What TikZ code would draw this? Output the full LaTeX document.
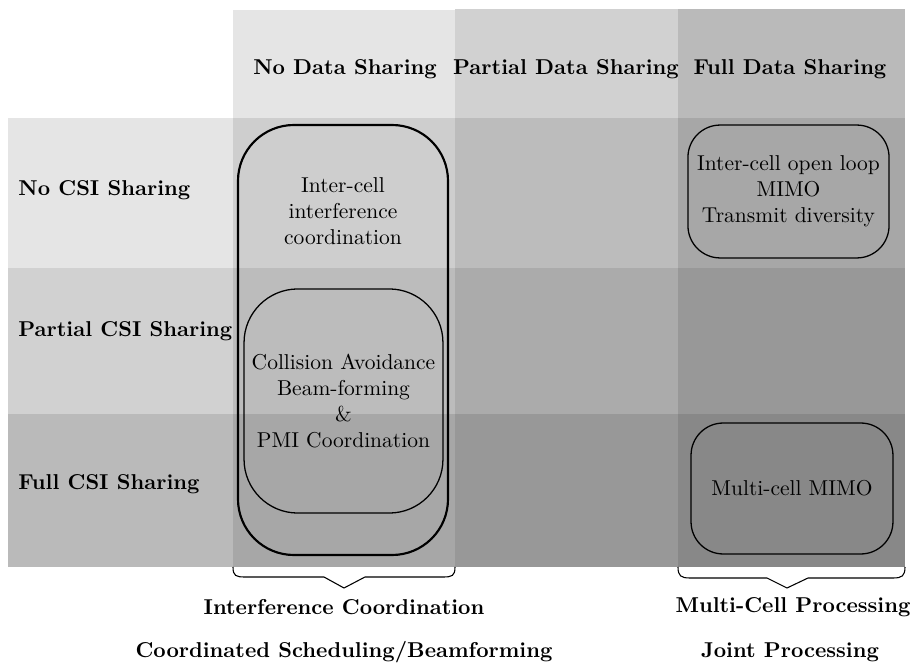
\documentclass[tikz,border=0pt]{standalone}
\begin{document}
\begin{tikzpicture}[x=0.465pt,y=-0.465pt,
  band/.style={fill=black},
  hdr/.style={font=\bfseries, anchor=center, inner sep=0pt},
  rowlab/.style={font=\bfseries, anchor=west, inner sep=0pt},
  boxtext/.style={align=center, inner sep=0pt},
  bigbox/.style={draw, line width=1pt, rounded corners=26pt, inner sep=0pt},
  midbox/.style={draw, line width=0.6pt, rounded corners=25pt, inner sep=0pt, align=center},
  smallbox/.style={draw, line width=0.6pt, rounded corners=15pt, inner sep=0pt, align=center},
  bracestyle/.style={line width=0.5pt, line join=miter}
]
\useasboundingbox (0,0) rectangle (910,663);
% columns
\fill[band, opacity=0.10] (233,10) rectangle (455,567);
\fill[band, opacity=0.18] (455,9) rectangle (678,567);
\fill[band, opacity=0.27] (678,9) rectangle (905,567);
% rows
\fill[band, opacity=0.10] (8,118) rectangle (905,268);
\fill[band, opacity=0.18] (8,268) rectangle (905,414);
\fill[band, opacity=0.27] (8,414) rectangle (905,567);
% headers
\node[hdr] (h1) at (345,69) {No Data Sharing};
\node[hdr] (h2) at (566,69) {Partial Data Sharing};
\node[hdr] (h3) at (790,69) {Full Data Sharing};
\node[rowlab] (r1) at (18,190) {No CSI Sharing};
\node[rowlab] (r2) at (18,331) {Partial CSI Sharing};
\node[rowlab] (r3) at (18,484) {Full CSI Sharing};
% boxes
\node[bigbox, minimum width=97.65pt, minimum height=199.95pt] (outer) at (343,340) {};
\node[boxtext] (ictext) at (343,211) {Inter-cell\\interference\\coordination};
\node[midbox, minimum width=92.5pt, minimum height=104.2pt] (inner) at (343.5,401)
  {Collision Avoidance\\Beam-forming\\\&\\PMI Coordination};
\node[smallbox, minimum width=93.5pt, minimum height=61.8pt] (ol) at (788.5,191.5)
  {Inter-cell open loop\\MIMO\\Transmit diversity};
\node[smallbox, minimum width=93.9pt, minimum height=60.9pt] (mc) at (792,488.5)
  {Multi-cell MIMO};
% braces
\coordinate (bl1) at (233,567);
\coordinate (bl2) at (455,567);
\coordinate (blt) at (344,588);
\coordinate (br1) at (678,567);
\coordinate (br2) at (905,567);
\coordinate (brt) at (787,588);
\draw[bracestyle] (bl1) .. controls (233,576) and (236,577) .. (245,577)
  -- (324,577) -- (blt) -- (365,577) -- (443,577)
  .. controls (452,577) and (455,576) .. (bl2);
\draw[bracestyle] (br1) .. controls (678,576) and (681,578) .. (690,578)
  -- (767,578) -- (brt) -- (808,578) -- (893,578)
  .. controls (902,578) and (905,576) .. (br2);
% bottom labels
\node[hdr] (ic) at (344,607) {Interference Coordination};
\node[hdr] (cs) at (344,652) {Coordinated Scheduling/Beamforming};
\node[hdr] (mp) at (793,607) {Multi-Cell Processing};
\node[hdr] (jp) at (790,652) {Joint Processing};
\end{tikzpicture}
\end{document}
